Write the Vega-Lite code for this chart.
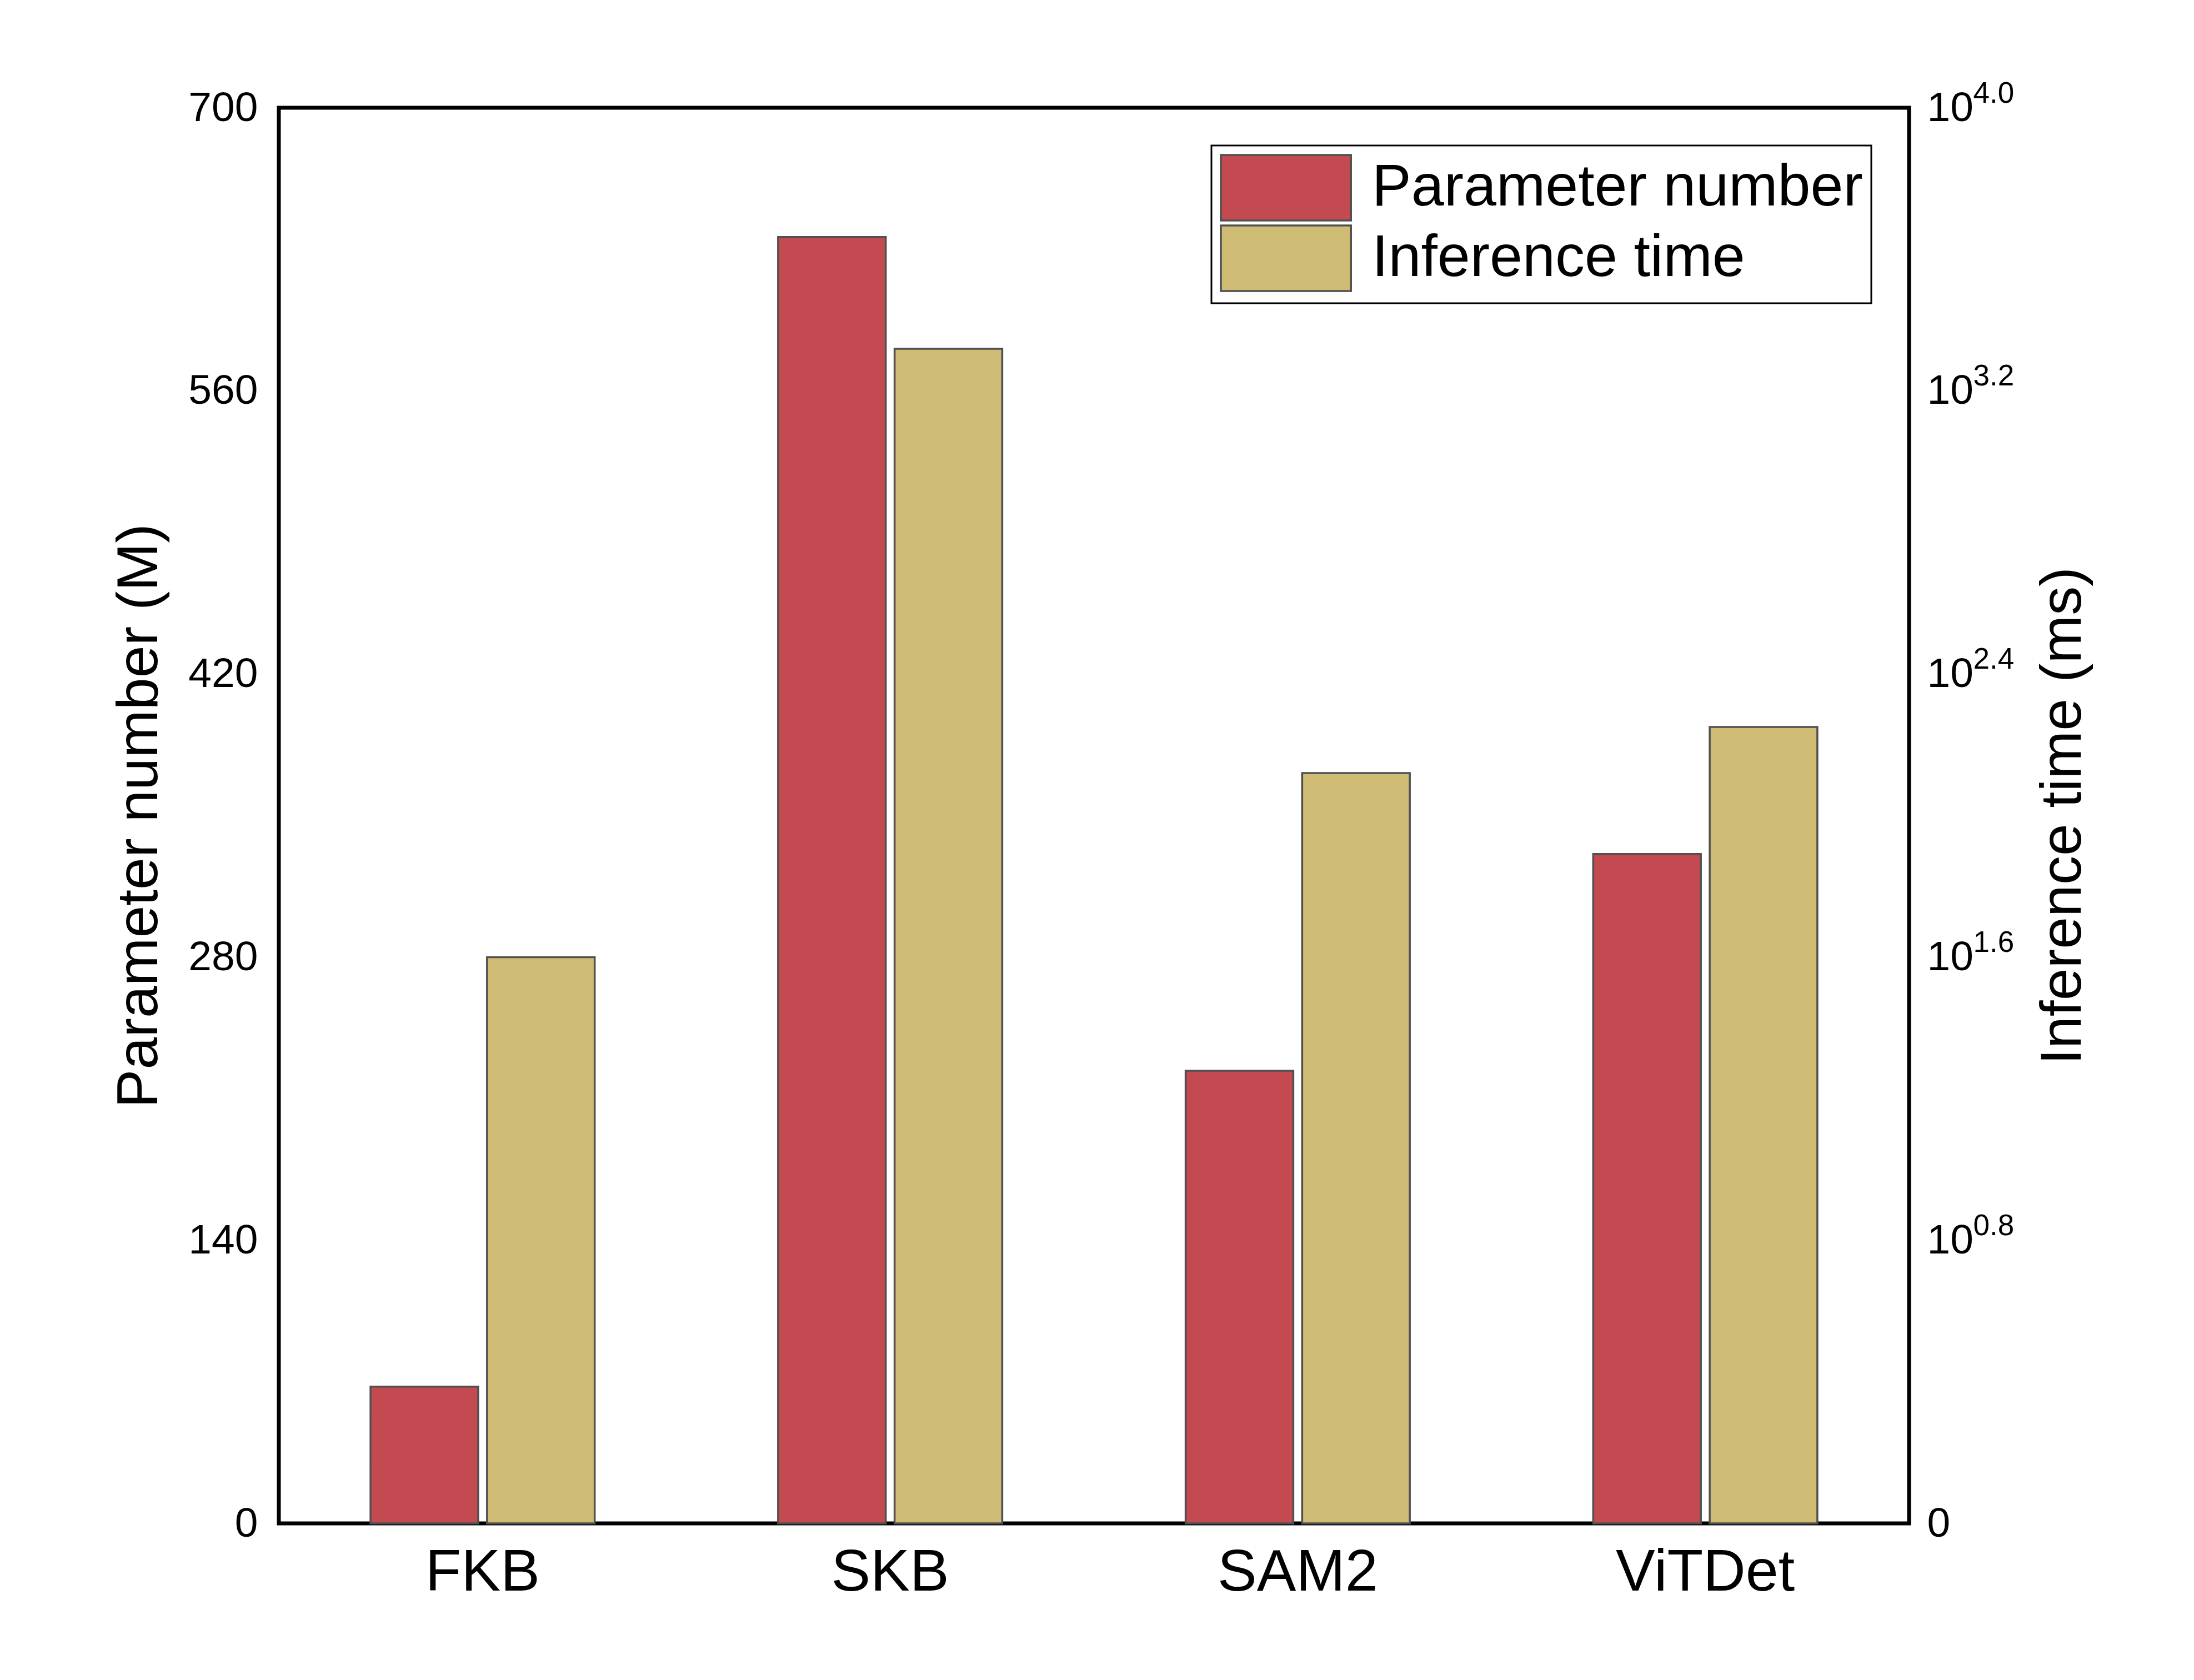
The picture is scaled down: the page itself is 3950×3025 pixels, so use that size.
{
  "$schema": "https://vega.github.io/schema/vega-lite/v6.json",
  "autosize": "none",
  "width": 2935,
  "height": 2549,
  "padding": {"left": 502, "top": 194, "right": 513, "bottom": 282},
  "background": "white",
  "data": {
    "values": [
      {"model": "FKB", "measure": "Parameter number", "value": 67.6},
      {"model": "FKB", "measure": "Inference time", "value": 39.8},
      {"model": "SKB", "measure": "Parameter number", "value": 636.1},
      {"model": "SKB", "measure": "Inference time", "value": 2084},
      {"model": "SAM2", "measure": "Parameter number", "value": 223.8},
      {"model": "SAM2", "measure": "Inference time", "value": 131.8},
      {"model": "ViTDet", "measure": "Parameter number", "value": 331.0},
      {"model": "ViTDet", "measure": "Inference time", "value": 177.9}
    ]
  },
  "encoding": {
    "x": {
      "field": "model", "type": "nominal", "sort": null, "title": null,
      "scale": {"paddingInner": 0.45, "paddingOuter": 0.225},
      "axis": {"labelAngle": 0, "labelFontSize": 106, "labelPadding": 36, "labelLimit": 3000, "ticks": false, "tickSize": 0, "domain": false, "labelColor": "black", "labelFont": "Liberation Sans"}
    },
    "xOffset": {
      "field": "measure", "type": "nominal",
      "scale": {"domain": ["Parameter number", "Inference time"], "paddingInner": 0.076, "paddingOuter": 0}
    }
  },
  "layer": [
    {
      "transform": [{"filter": "datum.measure === 'Parameter number'"}],
      "mark": {"type": "bar", "stroke": "#505050", "strokeWidth": 3.5},
      "encoding": {
        "y": {
          "field": "value", "type": "quantitative",
          "scale": {"domain": [0, 700], "nice": false, "zero": true},
          "axis": {
            "orient": "left",
            "values": [0, 140, 280, 420, 560, 700],
            "grid": false, "ticks": false, "tickSize": 0, "domain": false,
            "labelFontSize": 75, "labelFont": "Liberation Sans", "labelColor": "black", "labelPadding": 38,
            "title": "Parameter number (M)", "titleFontSize": 104, "titleFont": "Liberation Sans",
            "titleFontWeight": "normal", "titleColor": "black", "titlePadding": 34
          }
        },
        "color": {
          "field": "measure", "type": "nominal",
          "scale": {"domain": ["Parameter number", "Inference time"], "range": ["#C44A52", "#CFBC74"]},
          "legend": {"title": null}
        }
      }
    },
    {
      "transform": [{"filter": "datum.measure === 'Inference time'"}],
      "mark": {"type": "bar", "stroke": "#505050", "strokeWidth": 3.5},
      "encoding": {
        "y": {
          "field": "value", "type": "quantitative",
          "scale": {"type": "log", "domain": [1, 10000], "nice": false},
          "axis": {
            "orient": "right",
            "values": [1, 6.309573, 39.810717, 251.188643, 1584.893192, 10000],
            "labelExpr": "datum.value < 1.5 ? '0' : '10'",
            "grid": false, "ticks": false, "tickSize": 0, "domain": false,
            "labelFontSize": 75, "labelFont": "Liberation Sans", "labelColor": "black", "labelPadding": 32,
            "title": "Inference time (ms)", "titleFontSize": 104, "titleFont": "Liberation Sans",
            "titleFontWeight": "normal", "titleColor": "black", "titlePadding": 111,
            "titleAngle": -90, "titleBaseline": "top"
          }
        },
        "y2": {"datum": 1},
        "color": {"field": "measure", "type": "nominal"}
      }
    },
    {
      "transform": [{"filter": "datum.measure === 'Inference time'"}],
      "mark": {"type": "bar", "opacity": 0},
      "encoding": {
        "y": {
          "field": "value", "type": "quantitative",
          "scale": {"type": "log", "domain": [1, 10000], "nice": false},
          "axis": {
            "orient": "right",
            "values": [1, 6.309573, 39.810717, 251.188643, 1584.893192, 10000],
            "labelExpr": "datum.value < 1.5 ? '' : format(log(datum.value) / LN10, '.1f')",
            "grid": false, "ticks": false, "tickSize": 0, "domain": false,
            "labelFontSize": 53, "labelFont": "Liberation Sans", "labelColor": "black",
            "labelPadding": 115, "labelOffset": -26,
            "title": null
          }
        },
        "y2": {"datum": 1}
      }
    }
  ],
  "resolve": {"scale": {"y": "independent"}, "axis": {"y": "independent"}},
  "config": {
    "view": {"stroke": "black", "strokeWidth": 7},
    "font": "Liberation Sans",
    "legend": {
      "orient": "top-right",
      "offset": 68,
      "padding": 15,
      "strokeColor": "black",
      "strokeWidth": 3,
      "fillColor": "white",
      "symbolType": "M-1,-1H2.97V1H-1Z",
      "symbolSize": 13924,
      "symbolStrokeColor": "#505050",
      "symbolStrokeWidth": 3.5,
      "symbolOpacity": 1,
      "labelFontSize": 106,
      "labelFont": "Liberation Sans",
      "labelColor": "black",
      "labelOffset": 152,
      "labelLimit": 3000,
      "rowPadding": -5
    }
  }
}
